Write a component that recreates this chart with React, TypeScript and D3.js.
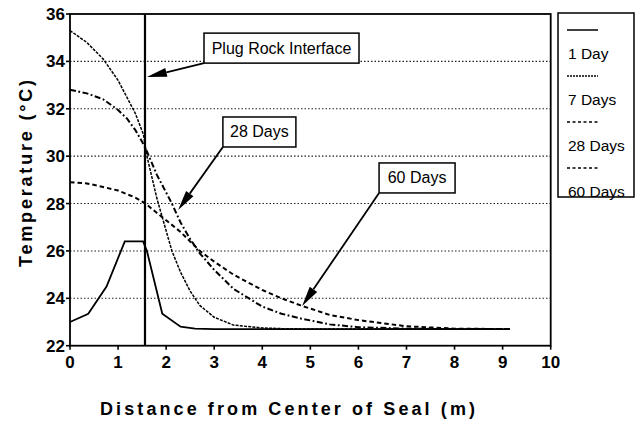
import React from "react";
import { scaleLinear, line } from "d3";

// distances (m) for the 1 Day profile
const dist1Day = [0, 0.38, 0.76, 1.14, 1.52, 1.6, 1.92, 2.3, 2.6, 3, 4, 5, 6, 7, 8, 9.15];
const temp1Day = [23.0, 23.35, 24.5, 26.4, 26.4, 26.0, 23.35, 22.8, 22.72, 22.7, 22.7, 22.7, 22.7, 22.7, 22.7, 22.7];

// shared distances for the longer profiles
const distLong = [0, 0.35, 0.69, 1.0, 1.18, 1.36, 1.53, 1.6, 1.81, 2.12, 2.3, 2.5, 2.7, 3.0, 3.4, 4.0, 4.4, 4.8, 5.4, 6.0, 7.0, 8.0, 9.15];
const temp7Days = [35.3, 34.8, 34.1, 33.2, 32.5, 31.8, 30.9, 30.0, 28.2, 26.0, 25.1, 24.3, 23.7, 23.2, 22.87, 22.75, 22.72, 22.71, 22.7, 22.7, 22.7, 22.7, 22.7];
const temp28Days = [32.8, 32.65, 32.4, 31.95, 31.6, 31.1, 30.5, 30.2, 29.2, 28.0, 27.2, 26.5, 25.9, 25.2, 24.4, 23.65, 23.35, 23.15, 22.9, 22.78, 22.72, 22.7, 22.7];
const temp60Days = [28.9, 28.85, 28.7, 28.55, 28.4, 28.25, 28.05, 27.95, 27.6, 27.1, 26.8, 26.4, 26.0, 25.55, 25.0, 24.35, 24.0, 23.7, 23.3, 23.08, 22.82, 22.72, 22.7];

const xTicks = [0, 1, 2, 3, 4, 5, 6, 7, 8, 9, 10];
const yTicks = [22, 24, 26, 28, 30, 32, 34, 36];
const gridTemps = [24, 26, 28, 30, 32, 34];
const interfaceDist = 1.56;

const legendLabels = ["1 Day", "7 Days", "28 Days", "60 Days"];
const dashes = ["", "3,1.2", "6,2.5,1.8,2.5", "4.5,3"];
const widths = [1.8, 1.5, 2, 2];

// annotation boxes: centre and arrow tip in data units
const notes = [
  { text: "Plug Rock Interface", cx: 4.4, cy: 34.56, w: 155, tipX: 1.6, tipY: 33.34 },
  { text: "28 Days", cx: 3.94, cy: 31.02, w: 73, tipX: 2.25, tipY: 27.73 },
  { text: "60 Days", cx: 7.22, cy: 29.08, w: 76, tipX: 4.83, tipY: 23.68 },
];

export default function App() {
  const width = 639;
  const height = 423;
  const x = scaleLinear().domain([0, 10]).range([70, 550.7]);
  const y = scaleLinear().domain([22, 36]).range([345.7, 14]);

  const series = [
    dist1Day.map((d, i) => [d, temp1Day[i]]),
    distLong.map((d, i) => [d, temp7Days[i]]),
    distLong.map((d, i) => [d, temp28Days[i]]),
    distLong.map((d, i) => [d, temp60Days[i]]),
  ] as [number, number][][];

  const path = line<[number, number]>()
    .x((d) => x(d[0]))
    .y((d) => y(d[1]));

  const font = "'Liberation Sans', Arial, sans-serif";

  const arrow = (x0: number, y0: number, x1: number, y1: number) => {
    const dx = x1 - x0;
    const dy = y1 - y0;
    const len = Math.sqrt(dx * dx + dy * dy);
    const ux = dx / len;
    const uy = dy / len;
    const hl = 20;
    const hw = 4.5;
    const bx = x1 - ux * hl;
    const by = y1 - uy * hl;
    const pts = [
      [x1, y1],
      [bx - uy * hw, by + ux * hw],
      [bx + uy * hw, by - ux * hw],
    ];
    return (
      <g>
        <line x1={x0} y1={y0} x2={bx} y2={by} stroke="#000" strokeWidth={1.8} />
        <polygon points={pts.map((p) => p.join(",")).join(" ")} fill="#000" />
      </g>
    );
  };

  return (
    <svg
      width={width}
      height={height}
      style={{ position: "absolute", left: 0, top: 0, background: "#fff" }}
    >
      <rect width={width} height={height} fill="#fff" />

      {/* gridlines */}
      {gridTemps.map((t) => (
        <line
          key={t}
          x1={x(0)}
          x2={x(10)}
          y1={y(t)}
          y2={y(t)}
          stroke="#222"
          strokeWidth={1.1}
          strokeDasharray="1.5,2"
        />
      ))}

      {/* frame */}
      <rect
        x={x(0)}
        y={y(36)}
        width={x(10) - x(0)}
        height={y(22) - y(36)}
        fill="none"
        stroke="#000"
        strokeWidth={1.8}
      />

      {/* ticks */}
      {xTicks.map((t) => (
        <g key={t}>
          <line x1={x(t)} x2={x(t)} y1={y(22)} y2={y(22) + 4} stroke="#000" strokeWidth={1.6} />
          <text
            x={x(t)}
            y={368}
            textAnchor="middle"
            fontFamily={font}
            fontWeight="bold"
            fontSize={17}
          >
            {t}
          </text>
        </g>
      ))}
      {yTicks.map((t) => (
        <g key={t}>
          <line x1={x(0) - 4} x2={x(0)} y1={y(t)} y2={y(t)} stroke="#000" strokeWidth={1.6} />
          <text
            x={65}
            y={y(t) + 6}
            textAnchor="end"
            fontFamily={font}
            fontWeight="bold"
            fontSize={17}
          >
            {t}
          </text>
        </g>
      ))}

      {/* plug rock interface */}
      <line
        x1={x(interfaceDist)}
        x2={x(interfaceDist)}
        y1={y(36)}
        y2={y(22)}
        stroke="#000"
        strokeWidth={2.2}
      />

      {/* curves */}
      {series.map((s, i) => (
        <path
          key={i}
          d={path(s) || ""}
          fill="none"
          stroke="#000"
          strokeWidth={widths[i]}
          strokeDasharray={dashes[i] || undefined}
        />
      ))}

      {/* annotations */}
      {notes.map((n) => {
        const cx = x(n.cx);
        const cy = y(n.cy);
        const h = 30;
        const left = cx - n.w / 2;
        const bottom = cy + h / 2;
        return (
          <g key={n.text}>
            {arrow(left, bottom, x(n.tipX), y(n.tipY))}
            <rect
              x={left}
              y={cy - h / 2}
              width={n.w}
              height={h}
              fill="#fff"
              stroke="#000"
              strokeWidth={1.5}
            />
            <text
              x={cx}
              y={cy + 5.5}
              textAnchor="middle"
              fontFamily={font}
              fontSize={16}
            >
              {n.text}
            </text>
          </g>
        );
      })}

      {/* legend */}
      <rect x={558} y={13} width={76} height={184} fill="#fff" stroke="#000" strokeWidth={1.5} />
      {legendLabels.map((lab, i) => (
        <g key={lab}>
          <line
            x1={567}
            x2={598}
            y1={30 + i * 46}
            y2={30 + i * 46}
            stroke="#000"
            strokeWidth={1.5}
            strokeDasharray={dashes[i] ? (i === 1 ? "2,1" : "3,2.5") : undefined}
          />
          <text x={568} y={59 + i * 46} fontFamily={font} fontSize={15.5}>
            {lab}
          </text>
        </g>
      ))}

      {/* axis titles */}
      <text
        x={100}
        y={415}
        fontFamily={font}
        fontWeight="bold"
        fontSize={18}
        textLength={375}
        lengthAdjust="spacing"
      >
        Distance from Center of Seal (m)
      </text>
      <text
        transform="translate(31.5,267) rotate(-90)"
        fontFamily={font}
        fontWeight="bold"
        fontSize={18}
        textLength={187}
        lengthAdjust="spacing"
      >
        Temperature (°C)
      </text>
    </svg>
  );
}
